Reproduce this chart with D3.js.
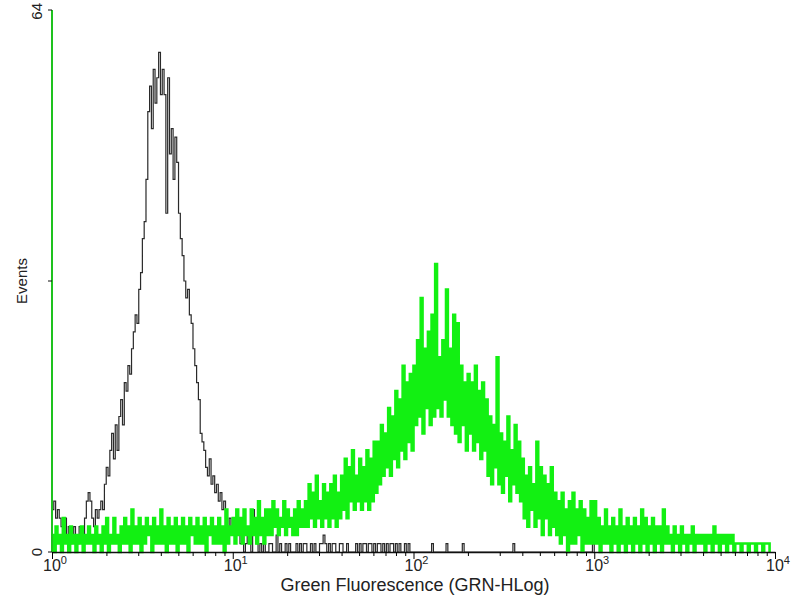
<!DOCTYPE html>
<html lang="en">
<head>
    <meta charset="UTF-8">
    <title>Green Fluorescence histogram</title>
    <style>
        body { margin: 0; background: #fff; }
        text { font-family: Arial, "Liberation Sans", sans-serif; fill: #222; }
    </style>
</head>
<body>
    <div id="chart"></div>
    <script src="https://d3js.org/d3.v7.min.js"></script>
    <script>
        // histogram channels: one value per 0.01 decade, starting at 10^0
        var channelStep = 0.01;

        // control (black) counts, channels 0..200
        var blackCounts = [
            5,6,4,5,4, 3,2,4,2,3,1,2,3,2,1,3,2,1,
            4,6,7,6,4,3,5,4,5, 6,5,8,10,9,12,14,11,15,
            12,16,18,15,20,19,22,21, 24,26,28,27, 31,33,37,39,44,
            52,55,50,57, 53,56,59,54,57, 54,40,56,47, 50,44,49,46,
            40,37,35, 32,30,31,28, 27,24,22,20, 18,14,13,
            12,10,9,11,8,9,7,8, 6,7,5,6,4, 3,4,2,3,2,4,
            2,1,2,0,1,2,1,0,5,2,1,0,1,
            0,1,0,0,1,1,0,0,2,0,1,0,0,1,0,1,0,0,0,1,0,1,
            0,1,1,0,0,1,0,1,0,0,1,1,2,1,0,1,0,1,1,0,0,1,1,0,0,1,0,0,0,0,
            1,0,1,0,1,1,0,1,1,0,1,0,1,1,0,1,0,1,0,1,1,0,1,0,1,0,0,1,0,1,0,0,0
        ];
        // isolated single events of the control further right
        var blackSparseChannels = [210, 218, 227, 255, 299];
        var blackSparseCounts = [1, 1, 1, 1, 1];

        // stained (green) counts, channels 0..396
        var greenCounts = [
            2,0,3,1,2,0,4,1,2,0,3,1,2,0,2,1,3,0,2,1,
            3,1,2,0,3,1,2,0,3,1,4,0,2,1,4,1,2,0,3,1,
            4,1,3,0,5,1,3,1,4,0,3,1,4,2,3,0,4,1,3,1,
            5,1,3,0,4,1,3,1,4,0,3,1,4,1,3,0,4,2,3,1,
            4,1,3,1,4,0,3,2,4,1,3,1,4,1,3,0,5,1,3,2,
            4,1,5,2,4,1,5,2,3,1,5,2,4,1,6,2,4,1,5,2,
            5,2,6,3,5,2,4,3,6,2,5,3,4,2,5,2,6,3,5,3,
            6,3,8,4,7,3,9,4,6,3,8,4,7,3,8,4,9,3,7,4,
            9,5,11,4,10,6,12,5,9,6,11,5,10,6,12,5,11,6,13,7,
            13,8,15,9,14,10,17,9,16,11,19,10,18,12,22,11,20,13,21,12,
            22,15,25,16,30,14,24,17,26,15,28,16,34,17,23,16,25,18,31,16,
            24,15,28,14,27,13,22,15,20,12,21,14,20,12,22,13,19,11,20,12,
            18,9,16,8,15,10,23,8,14,7,13,9,16,6,12,8,15,7,13,6,
            11,4,9,3,10,5,8,3,13,4,10,2,9,4,8,2,10,3,7,2,
            6,1,7,2,5,0,6,1,7,1,5,2,6,0,5,1,4,1,6,1,
            6,1,4,0,3,1,5,1,3,0,4,1,3,0,5,1,3,0,4,1,
            3,0,4,1,3,0,5,1,4,0,3,1,4,0,3,1,3,0,5,1,
            3,1,2,0,3,1,2,0,3,1,2,0,2,1,3,0,2,1,2,1,
            2,0,2,1,2,0,3,1,2,0,2,1,2,0,2,1,2,0,1,1,
            1,0,1,1,1,0,1,1,1,0,1,1,1,0,1,1,1
        ];

        var xDecades = [0, 1, 2, 3, 4];
        var yTickValues = [0, 32, 64];
        var yTickLabels = ['0', '', '64'];

        var width = 800, height = 600;

        var svg = d3.select('#chart')
            .append('svg')
                .attr('width', width)
                .attr('height', height);

        var x = d3.scaleLog()
            .domain([1, 10000])
            .range([52, 775]);

        var y = d3.scaleLinear()
            .domain([0, 64])
            .range([552, 10]);

        // fill in the sparse tail of the control
        var blackAll = blackCounts.slice();
        var last = blackSparseChannels[blackSparseChannels.length - 1];
        while (blackAll.length <= last) blackAll.push(0);
        blackSparseChannels.forEach(function(c, i) { blackAll[c] = blackSparseCounts[i]; });

        function toPoints(counts) {
            var pts = counts.map(function(c, i) { return [Math.pow(10, i * channelStep), c]; });
            pts.push([Math.pow(10, counts.length * channelStep), 0]);
            return pts;
        }

        var line = d3.line()
            .x(function(d) { return x(d[0]); })
            .y(function(d) { return y(d[1]); })
            .curve(d3.curveStepAfter);

        svg.append('path')
            .datum(toPoints(blackAll))
            .attr('fill', 'none')
            .attr('stroke', '#2a2a2a')
            .attr('stroke-width', 1.2)
            .attr('d', line);

        svg.append('path')
            .datum(toPoints(greenCounts))
            .attr('fill', 'none')
            .attr('stroke', '#12f012')
            .attr('stroke-width', 2.6)
            .attr('d', line);

        // x axis with decade and minor ticks
        var tickVals = [];
        for (var k = 0; k < 4; k++) {
            for (var m = 1; m < 10; m++) tickVals.push(m * Math.pow(10, k));
        }
        tickVals.push(10000);

        var xAxis = svg.append('g')
            .attr('transform', 'translate(0,' + y(0) + ')')
            .call(d3.axisBottom(x).tickValues(tickVals).tickSize(4).tickSizeOuter(0).tickFormat(''));
        xAxis.selectAll('.tick line')
            .attr('y2', function(d) { return Math.abs(Math.log10(d) % 1) < 1e-9 ? 7 : 4; });
        xAxis.select('.domain').attr('stroke', '#111').attr('stroke-width', 1.5);

        xDecades.forEach(function(e) {
            var t = svg.append('text')
                .attr('x', x(Math.pow(10, e)) + 3)
                .attr('y', 571)
                .attr('text-anchor', 'middle')
                .style('font-size', '16px');
            t.append('tspan').text('10');
            t.append('tspan')
                .attr('dy', -7)
                .style('font-size', '11px')
                .text(e);
        });

        svg.append('text')
            .attr('x', 415)
            .attr('y', 591)
            .attr('text-anchor', 'middle')
            .style('font-size', '18px')
            .text('Green Fluorescence (GRN-HLog)');

        // y axis
        svg.append('line')
            .attr('x1', 52).attr('x2', 52)
            .attr('y1', y(64)).attr('y2', y(0))
            .attr('stroke', '#1ec21e')
            .attr('stroke-width', 2);

        svg.selectAll('.ytick')
            .data(yTickValues)
            .enter().append('line')
                .attr('class', 'ytick')
                .attr('x1', 48).attr('x2', 52)
                .attr('y1', function(d) { return y(d); })
                .attr('y2', function(d) { return y(d); })
                .attr('stroke', '#111');

        svg.selectAll('.ylabel')
            .data(yTickValues)
            .enter().append('text')
                .attr('class', 'ylabel')
                .attr('transform', function(d) {
                    return 'translate(42,' + (d === 64 ? 3 : y(d)) + ') rotate(-90)';
                })
                .attr('text-anchor', function(d) { return d === 64 ? 'end' : 'middle'; })
                .style('font-size', '15px')
                .text(function(d, i) { return yTickLabels[i]; });

        svg.append('text')
            .attr('transform', 'translate(27,' + y(32) + ') rotate(-90)')
            .attr('text-anchor', 'middle')
            .style('font-size', '15px')
            .text('Events');
    </script>
</body>
</html>
